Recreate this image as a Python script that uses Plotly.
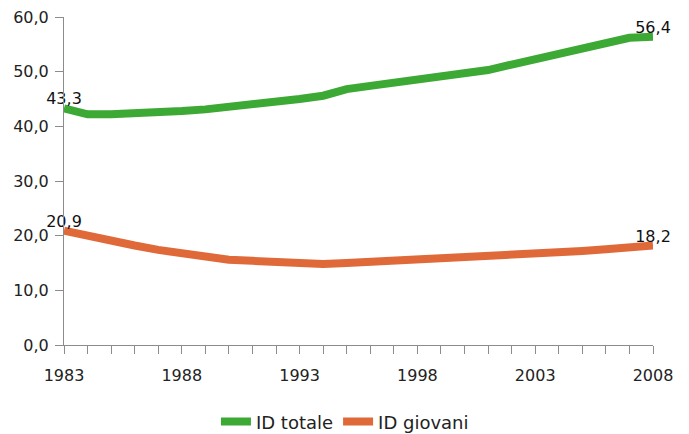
import plotly.graph_objects as go

years = list(range(1983, 2009))
id_totale = [43.3, 42.2, 42.2, 42.3, 42.5, 42.8, 43.1, 43.5, 43.9, 44.5, 45.0, 45.6, 46.8,
             47.4, 48.0, 48.6, 49.2, 49.7, 50.3, 51.3, 52.3, 53.3, 54.3, 55.3, 56.2, 56.4]
id_giovani = [20.9, 19.9, 19.0, 18.2, 17.4, 16.7, 16.1, 15.6, 15.4, 15.2, 15.0, 14.8, 15.0,
              15.2, 15.3, 15.5, 15.7, 15.9, 16.1, 16.4, 16.7, 16.9, 17.2, 17.5, 17.9, 18.2]
y_ticks = [0, 10, 20, 30, 40, 50, 60]
x_ticks = [1983, 1988, 1993, 1998, 2003, 2008]


def end_labels(vals):
    out = [""] * len(vals)
    out[0] = f"{vals[0]:.1f}".replace(".", ",")
    out[-1] = f"{vals[-1]:.1f}".replace(".", ",")
    return out


GREEN = "#3DA935"
ORANGE = "#E0693A"
FONT = "DejaVu Sans"

fig = go.Figure()
fig.add_trace(go.Scatter(x=years, y=id_totale, name="ID totale", mode="lines+text",
                         line=dict(color=GREEN, width=8), cliponaxis=False,
                         text=end_labels(id_totale), textposition="top center",
                         textfont=dict(family=FONT, size=16, color="#111")))
fig.add_trace(go.Scatter(x=years, y=id_giovani, name="ID giovani", mode="lines+text",
                         line=dict(color=ORANGE, width=8), cliponaxis=False,
                         text=end_labels(id_giovani), textposition="top center",
                         textfont=dict(family=FONT, size=16, color="#111")))

fig.update_layout(
    width=689, height=434,
    margin=dict(l=64, r=36, t=17, b=89, autoexpand=False),
    paper_bgcolor="white", plot_bgcolor="white",
    separators=",.",
    font=dict(family=FONT, size=16, color="#222"),
    showlegend=True,
    legend=dict(orientation="h", x=0.477, xanchor="center",
                yref="container", y=0.028, yanchor="middle",
                font=dict(family=FONT, size=18, color="#222"), itemwidth=30),
)
fig.update_xaxes(range=[1983, 2008], tickvals=x_ticks, ticktext=[str(v) for v in x_ticks],
                 showgrid=False, zeroline=False, showline=True, linecolor="#8c8c8c", linewidth=1,
                 ticks="outside", ticklen=8, tickcolor="#8c8c8c", ticklabelstandoff=8,
                 minor=dict(dtick=1, tick0=1983, ticks="outside", ticklen=8, tickcolor="#8c8c8c", showgrid=False),
                 tickfont=dict(family=FONT, size=16, color="#222"))
fig.update_yaxes(range=[0, 60], tickvals=y_ticks, tickformat=".1f",
                 showgrid=False, zeroline=False, showline=True, linecolor="#8c8c8c", linewidth=1,
                 ticks="outside", ticklen=8, tickcolor="#8c8c8c", ticklabelstandoff=3,
                 tickfont=dict(family=FONT, size=16, color="#222"))

fig.write_html("out.html")
